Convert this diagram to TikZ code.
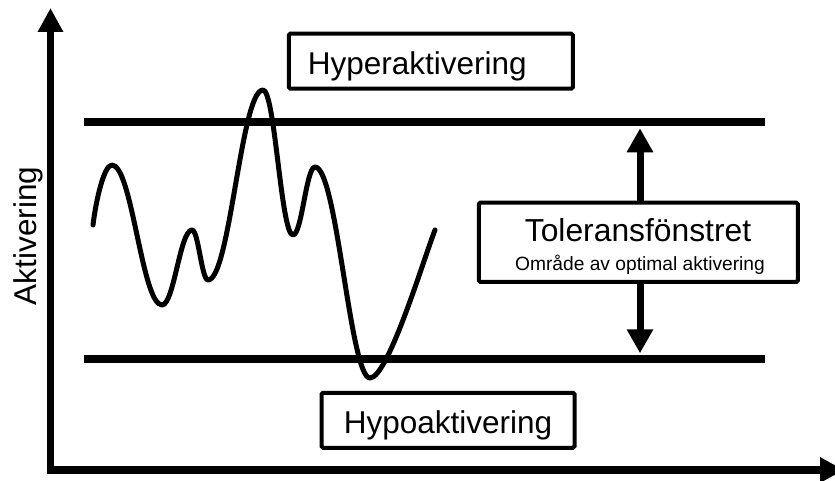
\documentclass[tikz,border=0pt]{standalone}
\usepackage{fontspec}
\setmainfont{Liberation Sans}
\usetikzlibrary{arrows.meta}
\tikzset{
  boxstyle/.style={draw=black, line width=4pt, rounded corners=1.5pt, inner sep=0pt, fill=white},
  bigtext/.style={font=\fontsize{31.5}{36}\selectfont},
  axisline/.style={line width=7.5pt, line join=miter},
  limitline/.style={line width=7.5pt},
  wavestyle/.style={line width=5pt, line cap=round, line join=round},
  rangearrow/.style={line width=7pt, -{Triangle[length=24pt,width=25pt]}},
}
\begin{document}
\begin{tikzpicture}[x=1pt,y=-1pt]
\useasboundingbox (0,0) rectangle (835,481);
\clip (0,0) rectangle (835,481);
\fill[white] (0,0) rectangle (835,481);

% axes
\coordinate (ytip) at (50.5,8);
\coordinate (corner) at (50.5,470);
\coordinate (xtip) at (844,470);
\draw[axisline, {Triangle[length=24pt,width=24pt]}-{Triangle[length=24pt,width=24pt]}] (ytip) -- (corner) -- (xtip);

\node[bigtext, rotate=90, anchor=base, inner sep=0pt] (ylabel) at (36.7,236) {Aktivering};

% limit lines
\coordinate (tl) at (84,122);
\coordinate (tr) at (765,122);
\coordinate (bl) at (84,359);
\coordinate (br) at (765,359);
\draw[limitline] (tl) -- (tr);
\draw[limitline] (bl) -- (br);

% wave
\draw[wavestyle]
  (93,225) .. controls (96,200) and (104,165) .. (112,165)
  .. controls (132,165) and (142,305) .. (162,305)
  .. controls (174,305) and (180,230) .. (192,230)
  .. controls (198.4,230) and (201.6,280) .. (208,280)
  .. controls (230,280) and (241,90) .. (263,90)
  .. controls (275,90) and (281,235) .. (293,235)
  .. controls (301.8,235) and (306.2,167) .. (315,167)
  .. controls (337,167) and (350,378) .. (370,378)
  .. controls (388,378) and (424,258) .. (435,230);

% boxes
\node[boxstyle, bigtext, minimum width=284pt, minimum height=55pt,
      text width=246pt, align=left, inner xsep=19pt,
      text height=29pt, text depth=1.4pt] (hyper) at (430.8,61.2) {Hyperaktivering};
\node[boxstyle, bigtext, minimum width=253pt, minimum height=55pt,
      text height=28pt, text depth=2pt] (hypo) at (448,420.3) {Hypoaktivering};

\node[boxstyle, minimum width=319pt, minimum height=79.3pt] (tolbox) at (638.3,242.3) {};
\node[font=\fontsize{31.8}{36}\selectfont, anchor=base, inner sep=0pt] (toltitle) at (638,241.7) {Toleransfönstret};
\node[font=\fontsize{19.2}{22}\selectfont, anchor=base, inner sep=0pt] (tolsub) at (640,270) {Område av optimal aktivering};

% range arrows
\coordinate (uptip) at (640,128.3);
\coordinate (downtip) at (640,353.3);
\draw[rangearrow] (tolbox.north -| uptip) -- (uptip);
\draw[rangearrow] (tolbox.south -| downtip) -- (downtip);
\end{tikzpicture}
\end{document}
